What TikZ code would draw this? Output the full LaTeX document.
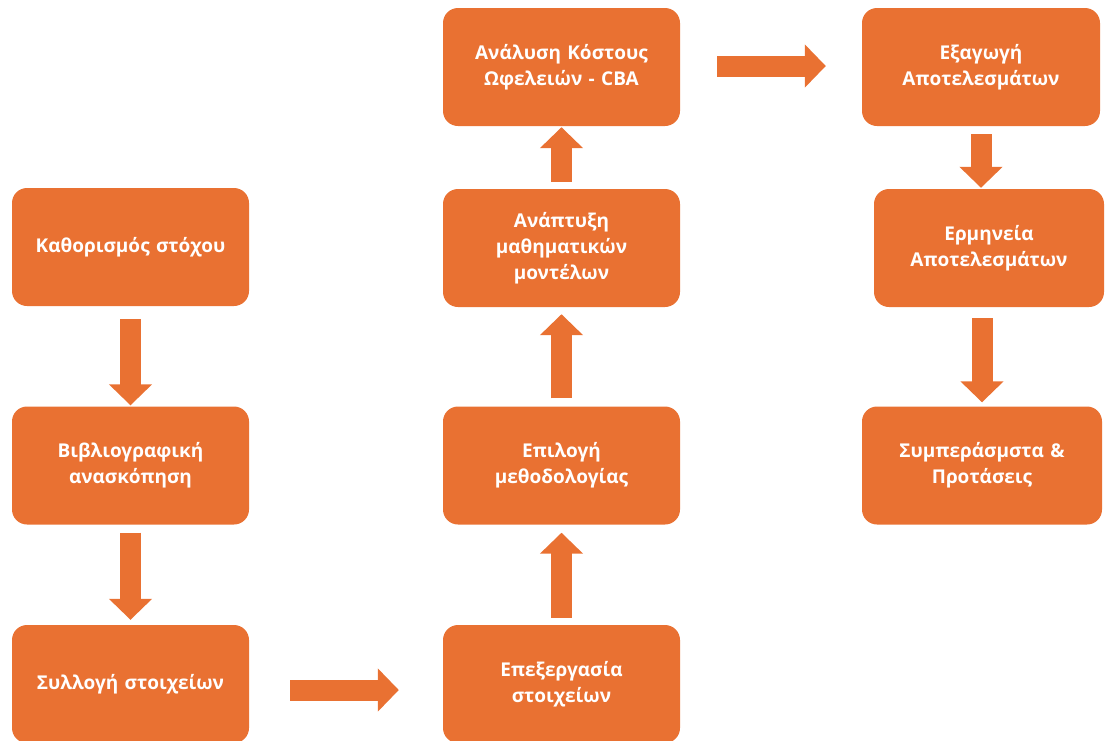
\documentclass[tikz,border=0pt]{standalone}
\usepackage{fontspec}
\setmainfont{Open Sans}
\usetikzlibrary{arrows.meta}
\definecolor{org}{HTML}{E97132}
\tikzset{
  box/.style={fill=org, rounded corners=15pt, text=white, font=\bfseries\fontsize{19}{26}\selectfont,
    align=center, inner sep=0pt, minimum height=118pt, text width=230pt},
  arr/.style={draw=org, line width=21pt, line cap=butt, -{Triangle[length=21pt,width=42pt]}},
}
\begin{document}
\begin{tikzpicture}[x=1pt,y=-1pt]
\useasboundingbox (0,0) rectangle (1105,740);
% column 1
\node[box, minimum width=237pt] (k1) at (130.5,247) {Καθορισμός στόχου};
\node[box, minimum width=237pt] (k2) at (130.5,465.5) {Βιβλιογραφική\\ανασκόπηση};
\node[box, minimum width=237pt] (k3) at (130.5,684) {Συλλογή στοιχείων};
% column 2
\node[box, minimum width=237pt] (m1) at (561.5,684) {Επεξεργασία\\στοιχείων};
\node[box, minimum width=237pt] (m2) at (561.5,465.5) {Επιλογή\\μεθοδολογίας};
\node[box, minimum width=237pt] (m3) at (561.5,248) {Ανάπτυξη\\μαθηματικών\\μοντέλων};
\node[box, minimum width=237pt] (m4) at (561.5,67) {Ανάλυση Κόστους\\Ωφελειών - CBA};
% column 3
\node[box, minimum width=238pt] (r1) at (981,67) {Εξαγωγή\\Αποτελεσμάτων};
\node[box, minimum width=230pt, text width=225pt] (r2) at (989,248) {Ερμηνεία\\Αποτελεσμάτων};
\node[box, minimum width=240pt] (r3) at (982,465.5) {Συμπεράσμστα \&\\Προτάσεις};
% arrows column 1
\draw[arr, shorten <=13pt, shorten >=1pt] (k1.south) -- (k2.north);
\draw[arr, shorten <=8pt, shorten >=5pt] (k2.south) -- (k3.north);
% bottom horizontal
\draw[arr, shorten <=41pt, shorten >=44pt] ([yshift=-6pt]k3.east) -- ([yshift=-6pt]m1.west);
% arrows column 2 (up)
\draw[arr, shorten <=7pt, shorten >=8pt] (m1.north) -- (m2.south);
\draw[arr, shorten <=8pt, shorten >=7pt] (m2.north) -- (m3.south);
\draw[arr, shorten <=7pt, shorten >=1pt] (m3.north) -- (m4.south);
% top horizontal
\draw[arr, shorten <=37pt, shorten >=36pt] ([yshift=1pt]m4.east) -- ([yshift=1pt]m4.east -| r1.west);
% arrows column 3
\draw[arr, shorten <=8pt, shorten >=1pt] (r1.south) -- (r1.south |- r2.north);
\draw[arr, shorten <=11pt, shorten >=4pt] (r3.north |- r2.south) -- (r3.north);
\end{tikzpicture}
\end{document}
